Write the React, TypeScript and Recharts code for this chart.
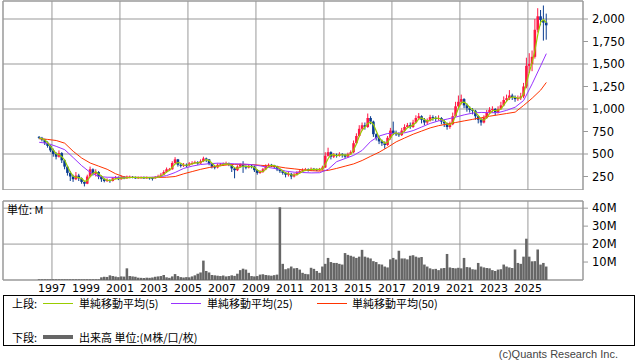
import React from "react";
import {
  Bar,
  BarChart,
  CartesianGrid,
  ComposedChart,
  Line,
  ReferenceArea,
  XAxis,
  YAxis,
} from "recharts";

// 2-month bars, first one centred on Apr 1996
const START_YEAR = 1996.25;
const STEP = 1 / 6;
const FIRST_OPEN = 690;

const closes = [
  680, 660, 625, 590, 540, 500, 470, 510, 430, 360,
  290, 250, 220, 260, 230, 190, 170, 250, 330, 280,
  300, 250, 220, 200, 210, 200, 230, 240, 220, 245,
  230, 240, 245, 240, 235, 240, 240, 235, 240, 235,
  230, 245, 255, 270, 300, 330, 330, 400, 440, 380,
  370, 380, 375, 395, 400, 410, 395, 420, 450, 440,
  390, 360, 350, 380, 385, 390, 395, 380, 340, 320,
  360, 380, 360, 350, 370, 360, 320, 290, 300, 330,
  370, 380, 375, 360, 330, 310, 290, 270, 280, 250,
  270, 290, 310, 320, 330, 320, 335, 330, 325, 330,
  350, 480, 520, 470, 490, 480, 500, 490, 470, 500,
  520, 620, 700, 780, 820, 800, 900, 860, 720, 680,
  640, 620, 600, 680, 760, 730, 720, 710, 760, 800,
  820, 800, 850, 900, 920, 880, 850, 870, 910, 900,
  890, 900, 860, 840, 800, 830, 920, 1030, 1080, 1110,
  1040, 1010, 990, 980, 920, 880, 850, 900, 960, 990,
  1000, 960, 1000, 1040, 1100, 1120, 1150, 1130, 1110, 1120,
  1140, 1250, 1480, 1500, 1580, 1880, 2030, 1990, 1960, 1930,
];

const highs = [
  700, 690, 670, 640, 600, 560, 520, 540, 520, 440,
  370, 310, 270, 300, 280, 240, 200, 270, 360, 340,
  330, 310, 260, 230, 230, 220, 240, 255, 250, 260,
  255, 260, 260, 255, 250, 250, 250, 250, 250, 245,
  245, 255, 270, 290, 320, 350, 345, 420, 465, 445,
  395, 400, 395, 410, 420, 425, 420, 440, 470, 460,
  445, 400, 375, 395, 400, 405, 415, 405, 390, 350,
  375, 395, 420, 375, 385, 380, 370, 330, 320, 345,
  385, 395, 390, 380, 370, 340, 320, 300, 300, 290,
  290, 310, 330, 340, 345, 340, 350, 345, 340, 345,
  370, 520, 570, 530, 510, 505, 520, 510, 500, 515,
  540, 650, 730, 820, 850, 850, 950, 920, 870, 730,
  700, 660, 640, 700, 790, 860, 760, 740, 790, 830,
  845, 850, 880, 930, 955, 930, 900, 895, 935, 930,
  920, 930, 910, 880, 850, 860, 960, 1080, 1150, 1160,
  1120, 1060, 1030, 1010, 990, 930, 900, 930, 990, 1020,
  1030, 1010, 1030, 1080, 1140, 1160, 1210, 1170, 1150, 1150,
  1180, 1290, 1570, 1620, 1650, 2000, 2120, 2100, 2150, 2060,
];

const lows = [
  665, 640, 600, 570, 520, 470, 440, 460, 400, 330,
  260, 200, 190, 210, 200, 170, 140, 165, 240, 260,
  250, 220, 190, 185, 190, 180, 195, 220, 210, 215,
  220, 225, 230, 230, 225, 225, 230, 225, 225, 215,
  205, 225, 240, 250, 265, 290, 310, 325, 390, 360,
  350, 355, 355, 365, 380, 390, 380, 390, 410, 410,
  375, 340, 330, 340, 365, 370, 375, 365, 300, 230,
  310, 350, 290, 330, 340, 340, 300, 270, 280, 290,
  320, 360, 355, 340, 310, 290, 270, 240, 250, 220,
  240, 260, 280, 300, 310, 305, 310, 315, 310, 315,
  320, 345, 470, 440, 455, 460, 470, 460, 450, 460,
  490, 510, 610, 690, 760, 770, 790, 830, 690, 650,
  610, 590, 560, 590, 660, 710, 700, 690, 700, 740,
  790, 780, 790, 840, 880, 840, 820, 830, 860, 870,
  860, 870, 830, 800, 770, 780, 820, 910, 1010, 1050,
  1010, 970, 960, 940, 880, 840, 815, 840, 890, 950,
  960, 930, 950, 990, 1030, 1080, 1100, 1100, 1080, 1090,
  1100, 1120, 1230, 1400, 1420, 1560, 1850, 1930, 1760, 1770,
];

// volume, millions
const volumes = [
  0.4, 0.4, 0.4, 0.4, 0.4, 0.4, 0.4, 0.4, 0.4, 0.4,
  0.4, 0.4, 0.4, 0.4, 0.4, 0.4, 0.4, 0.4, 0.4, 0.4,
  0.4, 0.4, 1.5, 1.8, 1.7, 2.6, 2.2, 1.9, 1.6, 2.0,
  1.9, 6.5, 2.2, 2.0, 1.8, 1.3, 1.2, 1.1, 1.3, 1.2,
  1.4, 1.8, 2.0, 2.2, 2.8, 1.5, 1.2, 2.0, 3.3, 2.2,
  1.6, 1.4, 1.6, 1.5, 2.0, 2.6, 3.5, 4.2, 10.8, 5.0,
  4.2, 2.8, 2.6, 2.4, 2.2, 2.5, 2.0, 2.2, 2.6, 2.3,
  3.5, 5.5, 6.3, 5.8, 4.0, 2.2, 2.0, 2.2, 3.0, 3.2,
  2.8, 2.6, 2.4, 2.7, 3.0, 40.5, 9.0, 6.0, 6.5, 7.5,
  6.5, 6.7, 5.8, 4.0, 3.4, 3.2, 6.8, 6.2, 5.0, 4.0,
  7.5, 9.0, 12.3, 10.0, 9.5, 9.5, 9.0, 8.6, 15.0, 14.0,
  13.5, 13.0, 12.3, 13.0, 16.8, 13.0, 12.5, 12.0, 10.5, 10.0,
  8.8, 8.6, 7.5, 7.0, 11.5, 12.3, 11.4, 16.3, 12.0, 12.0,
  11.5, 13.5, 13.8, 13.0, 12.5, 12.8, 8.6, 7.5, 6.5, 6.0,
  6.2, 5.5, 6.5, 6.7, 14.5, 7.0, 6.7, 6.5, 6.8, 6.5,
  12.3, 7.2, 7.0, 6.0, 5.8, 9.5, 7.5, 7.0, 6.7, 6.5,
  5.5, 5.0, 5.8, 6.0, 8.6, 7.5, 7.0, 6.7, 17.0, 9.5,
  9.0, 13.0, 23.0, 13.0, 10.4, 10.5, 17.0, 8.6, 9.5, 7.5,
];

// 25/50 averages read every 6 months (every 3rd bar, last one = final bar)
const ma25 = [
  630, 618, 585, 548, 460, 370, 295, 250, 242, 240,
  240, 240, 240, 240, 245, 260, 295, 340, 365, 383,
  392, 398, 395, 391, 388, 382, 368, 350, 335, 310,
  298, 294, 290, 292, 330, 415, 450, 485, 540, 640,
  700, 728, 730, 735, 760, 800, 840, 868, 888, 910,
  935, 955, 962, 958, 960, 985, 1020, 1095, 1280, 1480,
  1615,
];
const ma50 = [
  670, 662, 650, 620, 530, 455, 400, 365, 330, 280,
  245, 240, 240, 240, 240, 242, 250, 280, 305, 330,
  350, 365, 378, 385, 385, 383, 375, 367, 360, 345,
  335, 324, 315, 310, 318, 340, 365, 390, 428, 475,
  520, 575, 635, 678, 720, 755, 790, 815, 833, 850,
  868, 885, 903, 920, 935, 950, 965, 1040, 1120, 1210,
  1295,
];

const yearTicks = [1997, 1999, 2001, 2003, 2005, 2007, 2009, 2011, 2013, 2015, 2017, 2019, 2021, 2023, 2025];
const priceTicks = [250, 500, 750, 1000, 1250, 1500, 1750, 2000];
const volTicks = [10, 20, 30, 40];

const X_DOMAIN: [number, number] = [1994.12, 2028.24];
const PRICE_DOMAIN: [number, number] = [100, 2200];
const VOL_DOMAIN: [number, number] = [0, 44];

const UP = "#ff1744";
const DOWN = "#0b3d91";
const GRID = "#999";
const NUM_FONT = "'DejaVu Sans', sans-serif";
const JP_FONT = "'Noto Sans CJK JP', sans-serif";

const rows = closes.map((c, i) => {
  const last = i === closes.length - 1;
  const k = i % 3 === 0 ? i / 3 : last ? ma25.length - 1 : -1;
  const win = closes.slice(Math.max(0, i - 2), i + 1);
  return {
    t: START_YEAR + i * STEP,
    open: i === 0 ? FIRST_OPEN : closes[i - 1],
    close: c,
    high: highs[i],
    low: lows[i],
    range: [lows[i], highs[i]],
    vol: volumes[i],
    ma5: win.reduce((a, b) => a + b, 0) / win.length,
    ma25: k >= 0 ? ma25[k] : null,
    ma50: k >= 0 ? ma50[k] : null,
  };
});

function Candle(props: any) {
  const { x, y, width, height, payload } = props;
  if (x == null || y == null) return null;
  const top = Math.min(y, y + height);
  const h = Math.abs(height);
  const { open, close, high, low } = payload;
  const k = h / (high - low || 1);
  const bTop = top + (high - Math.max(open, close)) * k;
  const bBot = top + (high - Math.min(open, close)) * k;
  const color = close >= open ? UP : DOWN;
  const cx = x + width / 2;
  return (
    <g>
      <line x1={cx} x2={cx} y1={top} y2={top + h} stroke={color} strokeWidth={1} />
      <rect x={x} y={bTop} width={width} height={Math.max(1, bBot - bTop)} fill={color} />
    </g>
  );
}

const txt = (left: number, cy: number, s: string, extra: React.CSSProperties = {}) => (
  <div
    style={{
      position: "absolute",
      left,
      top: cy - 8,
      height: 16,
      lineHeight: "16px",
      fontSize: 11,
      fontFamily: JP_FONT,
      color: "#000",
      whiteSpace: "nowrap",
      ...extra,
    }}
  >
    {s}
  </div>
);

const swatch = (left: number, cy: number, color: string, h = 1) => (
  <div style={{ position: "absolute", left, top: cy - h / 2, width: 30, height: h, background: color }} />
);

export default function App() {
  return (
    <div
      style={{
        position: "fixed",
        left: 0,
        top: 0,
        width: 638,
        height: 362,
        background: "#fff",
        overflow: "hidden",
        fontFamily: NUM_FONT,
      }}
    >
      <div style={{ position: "absolute", left: 0, top: 0 }}>
        <ComposedChart width={638} height={190} data={rows} margin={{ top: 1, right: 0, bottom: 0, left: 3 }}>
          <CartesianGrid stroke={GRID} />
          <XAxis type="number" dataKey="t" domain={X_DOMAIN} ticks={yearTicks} allowDataOverflow hide />
          <YAxis
            orientation="right"
            width={55}
            domain={PRICE_DOMAIN}
            ticks={priceTicks}
            allowDataOverflow
            axisLine={false}
            tickLine={{ stroke: GRID }}
            tickSize={5}
            tickMargin={4}
            tick={{ fontSize: 11.5, fill: "#000", fontFamily: NUM_FONT }}
            tickFormatter={(v) => v.toLocaleString("en-US")}
          />
          <ReferenceArea x1={X_DOMAIN[0]} x2={X_DOMAIN[1]} y1={PRICE_DOMAIN[0]} y2={PRICE_DOMAIN[1]} fill="none" stroke={GRID} />
          <Bar dataKey="range" barSize={2.6} shape={<Candle />} isAnimationActive={false} />
          <Line dataKey="ma50" stroke="#ff3300" strokeWidth={1} dot={false} connectNulls isAnimationActive={false} />
          <Line dataKey="ma25" stroke="#9933ff" strokeWidth={1} dot={false} connectNulls isAnimationActive={false} />
          <Line dataKey="ma5" stroke="#99cc00" strokeWidth={1.2} dot={false} isAnimationActive={false} />
        </ComposedChart>
      </div>

      <div style={{ position: "absolute", left: 0, top: 195 }}>
        <BarChart width={638} height={104} data={rows} margin={{ top: 6, right: 0, bottom: 0, left: 3 }}>
          <CartesianGrid stroke={GRID} />
          <XAxis
            type="number"
            dataKey="t"
            domain={X_DOMAIN}
            ticks={yearTicks}
            allowDataOverflow
            height={19}
            axisLine={false}
            tickLine={false}
            tickSize={0}
            tickMargin={4}
            tick={{ fontSize: 11, fill: "#000", fontFamily: NUM_FONT }}
          />
          <YAxis
            orientation="right"
            width={55}
            domain={VOL_DOMAIN}
            ticks={volTicks}
            allowDataOverflow
            axisLine={false}
            tickLine={{ stroke: GRID }}
            tickSize={5}
            tickMargin={4}
            tick={{ fontSize: 11.5, fill: "#000", fontFamily: NUM_FONT }}
            tickFormatter={(v) => `${v}M`}
          />
          <ReferenceArea x1={X_DOMAIN[0]} x2={X_DOMAIN[1]} y1={VOL_DOMAIN[0]} y2={VOL_DOMAIN[1]} fill="none" stroke={GRID} />
          <Bar dataKey="vol" fill="#666" barSize={2.9} isAnimationActive={false} />
        </BarChart>
      </div>

      {txt(7, 209, "単位: M")}

      <div
        style={{
          position: "absolute",
          left: 3,
          top: 295,
          width: 632,
          height: 51,
          border: "1px solid #000",
          boxSizing: "border-box",
        }}
      />
      {txt(12, 303, "上段:")}
      {swatch(43, 303, "#99cc00")}
      {txt(79, 303, "単純移動平均(5)")}
      {swatch(171, 303, "#9933ff")}
      {txt(207, 303, "単純移動平均(25)")}
      {swatch(317, 303, "#ff3300")}
      {txt(352, 303, "単純移動平均(50)")}
      {txt(12, 337, "下段:")}
      {swatch(43, 337, "#666", 4)}
      {txt(79, 337, "出来高 単位:(M株/口/枚)")}

      <div
        style={{
          position: "absolute",
          right: 20,
          top: 348,
          fontSize: 11,
          lineHeight: "13px",
          fontFamily: "'Liberation Sans', sans-serif",
          color: "#444",
          whiteSpace: "nowrap",
        }}
      >
        (c)Quants Research Inc.
      </div>
    </div>
  );
}
